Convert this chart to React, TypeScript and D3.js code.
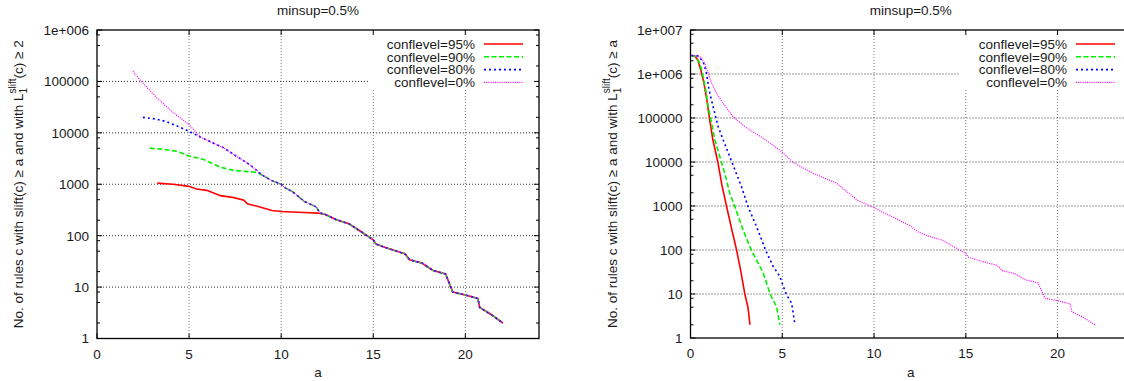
import * as d3 from 'd3'

const FONT = '"Liberation Sans", Arial, Helvetica, sans-serif'
const XTICKS = [0, 5, 10, 15, 20]
const LABELS = ['conflevel=95%', 'conflevel=90%', 'conflevel=80%', 'conflevel=0%']
const COLORS = ['#ff0000', '#00f000', '#0000ff', '#ff00ff']
const DASHES = ['none', '5 2.5', '2 3', '1 1.2']

// left panel: rules with L1slift(c) >= 2, [a, count]
const left95 = [[3.27, 1050], [4.12, 1000], [5.0, 910], [5.4, 810], [5.96, 760], [6.7, 600], [7.43, 550], [7.98, 490], [8.16, 417], [8.7, 372], [9.5, 309], [10.0, 295], [11.24, 282], [11.98, 275]]
const left90 = [[2.86, 5000], [3.6, 4800], [4.33, 4370], [5.0, 3550], [5.8, 3020], [6.7, 2140], [7.43, 1860], [8.7, 1700]]
const left80 = [[2.49, 20000], [3.2, 18600], [3.75, 16600], [4.3, 13800], [5.0, 10700]]
const left0 = [[1.95, 158000], [2.3, 110000], [3.2, 50000], [4.12, 25000], [5.0, 14500]]
// part shared by 90%, 80% and 0% once they meet
const leftMerged = [[5.6, 8300], [6.14, 6760], [6.87, 5130], [7.59, 3470], [8.3, 2400], [9.04, 1450], [9.5, 1175], [10.0, 1000], [10.23, 850], [10.6, 724], [11.24, 468], [11.9, 363], [12.0, 316], [12.14, 275]]
// tail common to every curve once they all meet
const tail = [[12.4, 257], [13.0, 204], [13.68, 170], [14.16, 132], [15.0, 83], [15.14, 69], [15.7, 58], [16.5, 47], [16.7, 45], [16.98, 34], [17.67, 29], [17.86, 26], [18.25, 21], [18.93, 18], [19.12, 12], [19.32, 8], [20.0, 7], [20.68, 6], [20.78, 4], [21.36, 3], [22.04, 2]]

// right panel: rules with L1slift(c) >= a
const right95 = [[0.05, 2630000], [0.23, 2570000], [0.4, 2090000], [0.56, 1230000], [0.73, 631000], [0.89, 257000], [1.05, 89000], [1.22, 31600], [1.49, 10000], [1.71, 3020], [1.96, 1000], [2.23, 316], [2.51, 100], [2.73, 35], [2.96, 10], [3.13, 5], [3.24, 2]]
const right90 = [[0.05, 2630000], [0.29, 2510000], [0.51, 1740000], [0.65, 1050000], [0.83, 437000], [0.96, 182000], [1.15, 76000], [1.33, 31600], [1.6, 13200], [1.87, 5500], [2.14, 1950], [2.42, 955], [2.87, 282], [3.33, 95], [3.6, 59], [3.96, 30], [4.36, 9.5], [4.69, 5.1], [4.87, 2]]
const right80 = [[0.05, 2630000], [0.41, 2570000], [0.69, 1900000], [0.87, 1050000], [1.01, 437000], [1.23, 182000], [1.51, 63000], [1.78, 31600], [2.14, 13200], [2.42, 6600], [2.78, 2750], [3.14, 955], [3.6, 339], [4.11, 95], [4.51, 42], [4.87, 25], [5.05, 15], [5.24, 9.5], [5.51, 6.2], [5.69, 2]]
const right0 = [[0.05, 2630000], [0.51, 2510000], [0.78, 1740000], [0.96, 1050000], [1.15, 617000], [1.42, 363000], [1.78, 214000], [2.32, 107000], [3.06, 59000], [3.96, 34700], [4.87, 18600], [5.6, 9800], [6.69, 5500], [7.96, 3310], [9.06, 1380], [10.0, 912], [10.5, 708], [11.27, 501], [11.96, 355]]

const leftSeries = [
  left95.concat(tail),
  left90.concat(leftMerged.filter(d => d[0] >= 9), tail),
  left80.concat(leftMerged, tail),
  left0.concat(leftMerged, tail),
]
const rightSeries = [right95, right90, right80, right0.concat(tail)]

function tickText(e) {
  return e >= 6 ? `1e+00${e}` : String(10 ** e)
}

function Panel({ left, right, top, bottom, maxExp, series, labelX, last }) {
  const x = d3.scaleLinear().domain([0, 24]).range([left, right])
  const y = d3.scaleLog().domain([1, 10 ** maxExp]).range([bottom, top])
  const line = d3.line().x(d => x(d[0])).y(d => y(d[1]))
  const exps = d3.range(0, maxExp + 1)
  // minor ticks as they show up in the picture
  const minors = d3.range(0, maxExp).flatMap(e => [2, 5, 8].map(m => m * 10 ** e))
  const midY = (top + bottom) / 2
  const midX = (left + right) / 2

  return (
    <g fontFamily={FONT} fontSize={13.5} fill="#1a1a1a">
      <text x={midX} y={14.5} textAnchor="middle">minsup=0.5%</text>

      {/* grid */}
      {XTICKS.filter(t => t > 0).map(t => (
        <line key={'gx' + t} x1={x(t)} x2={x(t)} y1={top} y2={bottom} stroke="#777" strokeDasharray="1 2" />
      ))}
      {exps.filter(e => e > 0 && e < maxExp).map(e => (
        <line key={'gy' + e} x1={left} x2={right} y1={y(10 ** e)} y2={y(10 ** e)} stroke="#333" strokeDasharray="1 2" />
      ))}
      {/* key box hides the grid behind it */}
      <rect x={right - 171} y={top + 1} width={170} height={57} fill="#fff" />

      {/* data */}
      <g fill="none">
        {series.map((s, i) => (
          <path key={i} d={line(s)} stroke={COLORS[i]} strokeDasharray={DASHES[i]} strokeWidth={i === 3 ? 1.2 : 1.6} />
        ))}
      </g>

      {/* frame and ticks */}
      <rect x={left} y={top} width={right - left} height={bottom - top} fill="none" stroke="#000" strokeWidth={1.3} />
      <g stroke="#000" strokeWidth={1}>
        {exps.map(e => (
          <g key={'ty' + e}>
            <line x1={left} x2={left + 5} y1={y(10 ** e)} y2={y(10 ** e)} />
            <line x1={right} x2={right - 5} y1={y(10 ** e)} y2={y(10 ** e)} />
          </g>
        ))}
        {minors.map(v => (
          <g key={'tm' + v}>
            <line x1={left} x2={left + 3} y1={y(v)} y2={y(v)} />
            <line x1={right} x2={right - 3} y1={y(v)} y2={y(v)} />
          </g>
        ))}
        {XTICKS.map(t => (
          <g key={'tx' + t}>
            <line x1={x(t)} x2={x(t)} y1={bottom} y2={bottom - 5} />
            <line x1={x(t)} x2={x(t)} y1={top} y2={top + 5} />
          </g>
        ))}
      </g>

      {exps.map(e => (
        <text key={'ly' + e} x={left - 8} y={y(10 ** e)} dy="0.36em" textAnchor="end">{tickText(e)}</text>
      ))}
      {XTICKS.map(t => (
        <text key={'lx' + t} x={x(t)} y={bottom + 20} textAnchor="middle">{t}</text>
      ))}
      <text x={midX} y={bottom + 38.5} textAnchor="middle">a</text>

      <text transform={`translate(${labelX},${midY}) rotate(-90)`} textAnchor="middle">
        No. of rules c with slift(c) ≥ a and with L
        <tspan fontSize={10} dy={4}>1</tspan>
        <tspan fontSize={10} dx={-5.6} dy={-11}>slift</tspan>
        <tspan dy={7}>(c) ≥ {last}</tspan>
      </text>

      {/* legend */}
      {LABELS.map((lab, i) => {
        const ly = top + 14 + i * 12.8
        return (
          <g key={lab}>
            <text x={right - 64} y={ly} dy="0.36em" textAnchor="end">{lab}</text>
            <line x1={right - 55} x2={right - 16} y1={ly} y2={ly} stroke={COLORS[i]} strokeDasharray={DASHES[i]} strokeWidth={i === 3 ? 1.2 : 1.6} />
          </g>
        )
      })}
    </g>
  )
}

export default function App() {
  return (
    <svg width={1124} height={381} style={{ position: 'absolute', left: 0, top: 0, background: '#fff' }}>
      <Panel left={97} right={539} top={30} bottom={338.5} maxExp={6} series={leftSeries} labelX={23} last="2" />
      <Panel left={690.5} right={1131} top={30} bottom={338} maxExp={7} series={rightSeries} labelX={617} last="a" />
    </svg>
  )
}
